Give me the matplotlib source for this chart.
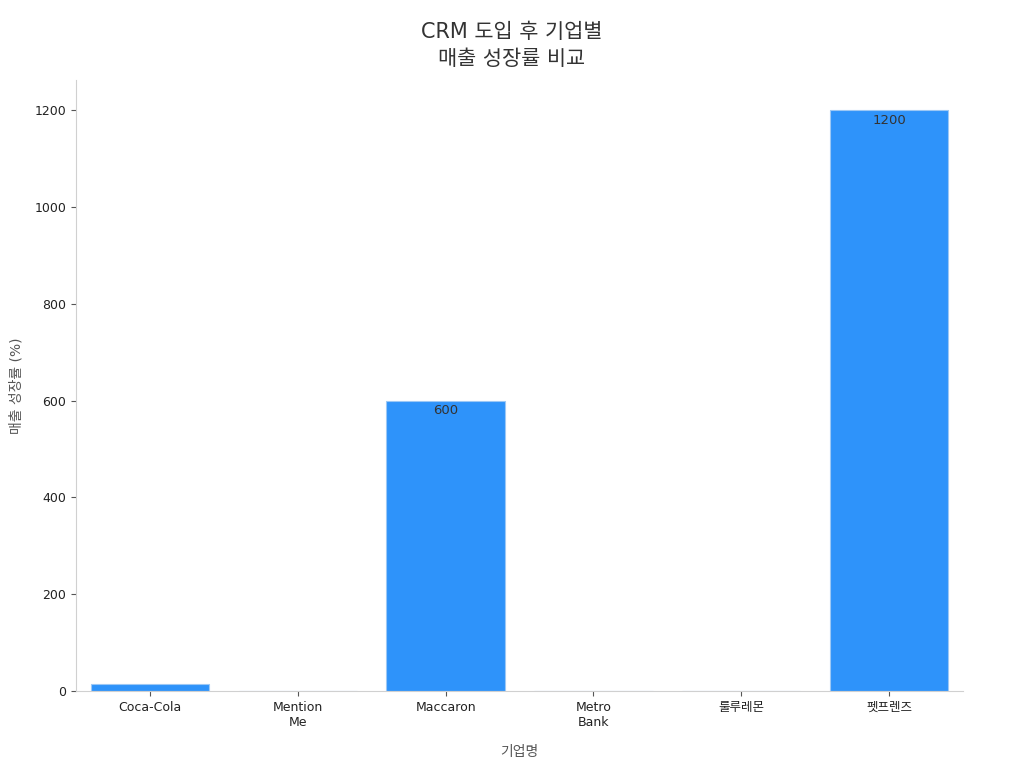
import numpy as np
import matplotlib
matplotlib.use('Agg')
import matplotlib.pyplot as plt

plt.rcParams['font.family'] = ['DejaVu Sans', 'Noto Sans CJK KR']

companies = ['Coca-Cola', 'Mention\nMe', 'Maccaron', 'Metro\nBank', '룰루레몬', '펫프렌즈']
growth = [14, 0, 600, 0, 0, 1200]
shown = [600, 1200]

fig = plt.figure(figsize=(10.24, 7.68), dpi=100)
ax = fig.add_axes([76/1024, 1-691/768, (963-76)/1024, (691-80)/768])

x = np.arange(len(companies))
bars = ax.bar(x, growth, width=0.8, color='#2E93FA', edgecolor='#9cc8f5', linewidth=0.8)

for b, v in zip(bars, growth):
    if v in shown:
        ax.text(b.get_x() + b.get_width()/2, v - 8, str(v), ha='center', va='top',
                fontsize=9.5, color='#333333')

ax.set_xlim(-0.5, 5.5)
ax.set_ylim(0, 1262)
ax.set_xticks(x)
ax.set_xticklabels(companies, fontsize=9)
ax.set_yticks([0, 200, 400, 600, 800, 1000, 1200])
ax.tick_params(axis='y', labelsize=9)
ax.tick_params(colors='#555555', labelcolor='#222222')

for s in ['top', 'right']:
    ax.spines[s].set_visible(False)
for s in ['left', 'bottom']:
    ax.spines[s].set_color('#d0d0d0')

ax.set_xlabel('기업명', fontsize=10, color='#555555', labelpad=12)
ax.set_ylabel('매출 성장률 (%)', fontsize=10, color='#555555', labelpad=8)
fig.suptitle('CRM 도입 후 기업별\n매출 성장률 비교', fontsize=15, color='#333333',
             y=0.972, linespacing=1.45)

fig.savefig('out.png', dpi=100)
